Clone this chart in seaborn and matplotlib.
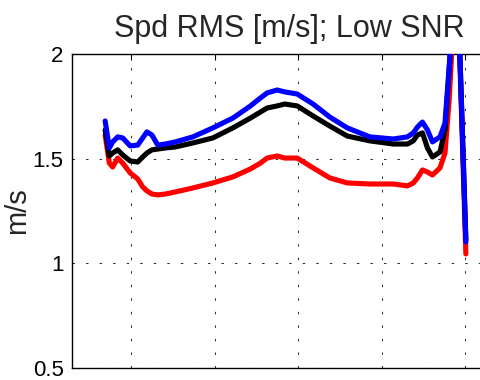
import matplotlib
matplotlib.use("Agg")
import matplotlib.pyplot as plt
import seaborn as sns
import pandas as pd

# Sample positions along the record (tick units)
x = [0.69, 0.74, 0.78, 0.84, 0.90, 0.99, 1.08, 1.14, 1.19, 1.25, 1.32, 1.41,
     1.53, 1.74, 1.98, 2.22, 2.43, 2.55, 2.63, 2.75, 2.84, 2.99, 3.18, 3.38,
     3.59, 3.86, 4.14, 4.31, 4.38, 4.43, 4.49, 4.55, 4.61, 4.70, 4.76, 4.81,
     4.90, 5.01]

# Speed RMS per estimator [m/s]
rms_red = [1.613, 1.479, 1.460, 1.503, 1.479, 1.432, 1.403, 1.365, 1.346, 1.331,
           1.327, 1.331, 1.341, 1.360, 1.384, 1.413, 1.451, 1.479, 1.503, 1.513,
           1.503, 1.503, 1.456, 1.408, 1.384, 1.379, 1.379, 1.370, 1.384, 1.408,
           1.446, 1.436, 1.422, 1.456, 1.527, 1.780, 2.449, 1.045]
rms_black = [1.637, 1.513, 1.527, 1.542, 1.518, 1.489, 1.484, 1.508, 1.527, 1.542,
             1.546, 1.551, 1.556, 1.575, 1.599, 1.647, 1.694, 1.723, 1.742, 1.752,
             1.761, 1.752, 1.704, 1.656, 1.608, 1.585, 1.570, 1.570, 1.585, 1.613,
             1.623, 1.551, 1.508, 1.532, 1.637, 1.924, 2.473, 1.112]
rms_blue = [1.680, 1.551, 1.580, 1.604, 1.599, 1.561, 1.565, 1.599, 1.628, 1.613,
            1.565, 1.570, 1.580, 1.604, 1.647, 1.694, 1.752, 1.790, 1.814, 1.828,
            1.819, 1.809, 1.761, 1.699, 1.647, 1.604, 1.594, 1.604, 1.623, 1.651,
            1.675, 1.637, 1.580, 1.604, 1.670, 1.938, 2.473, 1.102]

series_names = ["red", "black", "blue"]
series_colors = {"red": "#ff0000", "black": "#000000", "blue": "#0000ff"}
yticks = [0.5, 1, 1.5, 2]
ytick_labels = ["0.5", "1", "1.5", "2"]
xticks = [1, 2, 3, 4, 5]

df = pd.concat([
    pd.DataFrame({"x": x, "rms": vals, "series": name})
    for name, vals in zip(series_names, [rms_red, rms_black, rms_blue])
], ignore_index=True)

sns.set_style("white")
plt.rcParams["font.family"] = ["Liberation Sans", "DejaVu Sans"]

W, H = 481, 380
fig = plt.figure(figsize=(W / 100, H / 100), dpi=100)
x_left, x_right = 0.293, 5.49
px_per_unit = 83.5
ax_left_px, ax_top_px, ax_bot_px = 72, 54, 368
ax_w_px = (x_right - x_left) * px_per_unit
ax = fig.add_axes([ax_left_px / W, (H - ax_bot_px) / H,
                   ax_w_px / W, (ax_bot_px - ax_top_px) / H])

sns.lineplot(data=df, x="x", y="rms", hue="series", hue_order=series_names,
             palette=series_colors, sort=False, legend=False, linewidth=3.7,
             estimator=None, ax=ax, zorder=3)

ax.set_xlim(x_left, x_right)
ax.set_ylim(0.5, 2)
ax.set_xticks(xticks)
ax.set_xticklabels([])
ax.set_yticks(yticks)
ax.set_yticklabels(ytick_labels)
ax.grid(True, color="0.2", linestyle=(0, (2.4, 10.6)), linewidth=0.75, zorder=0)
for side in ["left", "bottom", "top", "right"]:
    ax.spines[side].set_visible(True)
    ax.spines[side].set_color("black")
    ax.spines[side].set_linewidth(1.0)
ax.tick_params(direction="in", length=4, width=0.8, top=True, right=True,
               labelsize=16, pad=6, colors="black")
ax.set_xlabel("")
ax.set_ylabel("m/s", fontsize=21, labelpad=1)
ax.set_title("Spd RMS [m/s]; Low SNR", fontsize=22, pad=12)

fig.savefig("out.png", dpi=100)
